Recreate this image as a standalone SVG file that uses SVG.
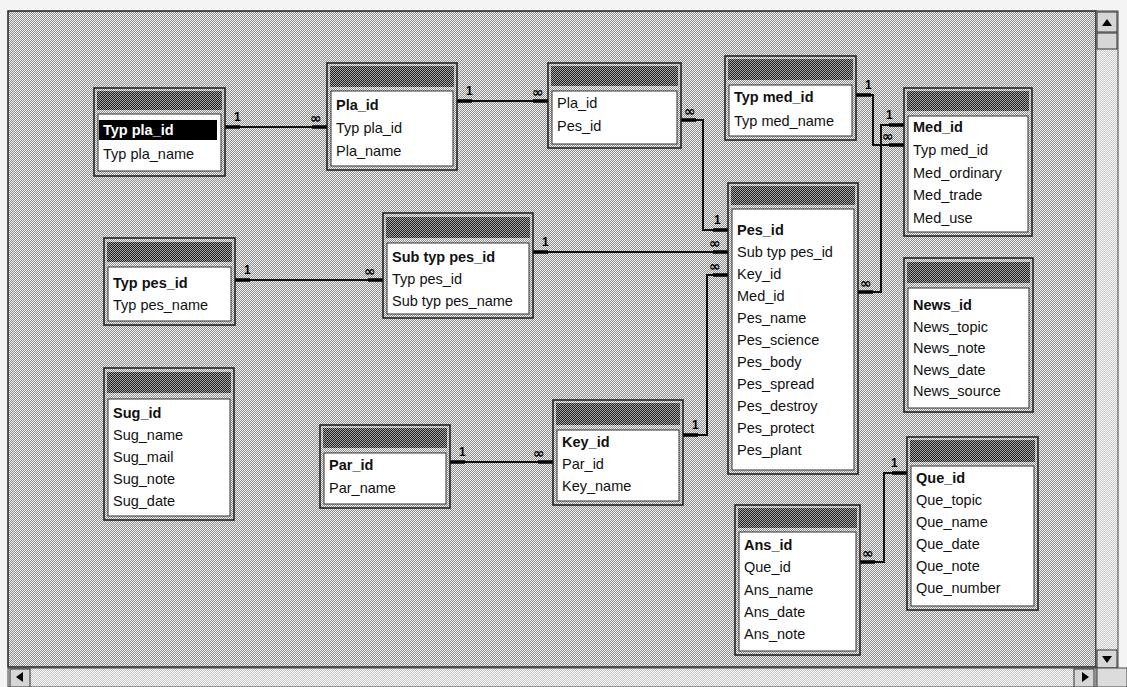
<svg xmlns="http://www.w3.org/2000/svg" width="1127" height="687" viewBox="0 0 1127 687">
<defs>
<pattern id="bg" width="2" height="2" patternUnits="userSpaceOnUse"><rect width="2" height="2" fill="#8e8e8e"/><rect width="1" height="1" fill="#f2f2f2"/><rect x="1" y="1" width="1" height="1" fill="#f2f2f2"/></pattern>
<pattern id="dk" width="2" height="2" patternUnits="userSpaceOnUse"><rect width="2" height="2" fill="#1e1e1e"/><rect width="1" height="1" fill="#a8a8a8"/><rect x="1" y="1" width="1" height="1" fill="#a8a8a8"/></pattern>
<pattern id="sb" width="2" height="2" patternUnits="userSpaceOnUse"><rect width="2" height="2" fill="#c8c8c8"/><rect width="1" height="1" fill="#f8f8f8"/><rect x="1" y="1" width="1" height="1" fill="#f8f8f8"/></pattern>
</defs>
<style>
.frame{fill:url(#bg);stroke:#1a1a1a;stroke-width:1.5}
.title{fill:url(#dk)}
.list{fill:#ffffff;stroke:#333;stroke-width:1}
.f{font-family:"Liberation Sans",Arial,sans-serif;font-size:14.5px;fill:#111}
.k{font-weight:bold}
.sel{fill:#000}
.w{fill:#fff}
.ln{fill:none;stroke:#111;stroke-width:2}
.stub{fill:none;stroke:#000;stroke-width:3.5}
.lbl{font-family:"Liberation Sans",Arial,sans-serif;font-size:12px;font-weight:bold;fill:#000}
.inf{font-family:"DejaVu Sans",sans-serif;font-size:14px;font-weight:bold;fill:#000}
.btn{fill:#d6d6d6;stroke:#333;stroke-width:1}
</style>
<rect x="0" y="0" width="1127" height="687" fill="#f4f4f4"/>
<rect x="8" y="11" width="1088" height="656" fill="url(#bg)" stroke="#222" stroke-width="1.5"/>

<!-- scrollbars -->
<g id="scrollbars">
<rect x="1096" y="11" width="22" height="656" fill="url(#sb)" stroke="#444"/>
<rect class="btn" x="1097" y="12" width="20" height="20"/>
<polygon points="1102,26 1107,19 1112,26" fill="#000"/>
<rect class="btn" x="1097" y="33" width="20" height="16"/>
<rect class="btn" x="1097" y="650" width="20" height="18"/>
<polygon points="1102,656 1112,656 1107,663" fill="#000"/>
<rect x="8" y="668" width="1088" height="19" fill="url(#sb)" stroke="#444"/>
<rect class="btn" x="10" y="669" width="20" height="18"/>
<polygon points="23,672 23,682 16,677" fill="#000"/>
<rect class="btn" x="1074" y="669" width="20" height="18"/>
<polygon points="1082,672 1082,682 1089,677" fill="#000"/>
<rect x="1097" y="668" width="30" height="19" fill="#dcdcdc" stroke="#444"/>
</g>

<!-- connectors -->
<g id="connectors">
<path class="ln" d="M225,127 H327"/>
<path class="stub" d="M225,127 H240 M312,127 H327"/>
<text class="lbl" x="234" y="121">1</text><text class="inf" x="310" y="123">∞</text>

<path class="ln" d="M457,101 H548"/>
<path class="stub" d="M457,101 H472 M533,101 H548"/>
<text class="lbl" x="466" y="95">1</text><text class="inf" x="532" y="97">∞</text>

<path class="ln" d="M681,120 H703 V230 H728"/>
<path class="stub" d="M681,120 H696 M713,230 H728"/>
<text class="inf" x="684" y="116">∞</text><text class="lbl" x="714" y="224">1</text>

<path class="ln" d="M533,252 H728"/>
<path class="stub" d="M533,252 H548 M713,252 H728"/>
<text class="lbl" x="542" y="246">1</text><text class="inf" x="709" y="248">∞</text>

<path class="ln" d="M235,280 H383"/>
<path class="stub" d="M235,280 H250 M368,280 H383"/>
<text class="lbl" x="244" y="274">1</text><text class="inf" x="364" y="276">∞</text>

<path class="ln" d="M683,435 H707 V275 H728"/>
<path class="stub" d="M683,435 H698 M713,275 H728"/>
<text class="lbl" x="692" y="429">1</text><text class="inf" x="709" y="271">∞</text>

<path class="ln" d="M856,95 H873 V145 H904"/>
<path class="stub" d="M856,95 H871 M889,145 H904"/>
<text class="lbl" x="865" y="89">1</text><text class="inf" x="882" y="141">∞</text>

<path class="ln" d="M904,125 H881 V292 H858"/>
<path class="stub" d="M904,125 H889 M858,292 H873"/>
<text class="lbl" x="886" y="119">1</text><text class="inf" x="860" y="288">∞</text>

<path class="ln" d="M450,462 H553"/>
<path class="stub" d="M450,462 H465 M538,462 H553"/>
<text class="lbl" x="459" y="456">1</text><text class="inf" x="533" y="458">∞</text>

<path class="ln" d="M907,473 H884 V562 H860"/>
<path class="stub" d="M907,473 H892 M860,562 H875"/>
<text class="lbl" x="891" y="467">1</text><text class="inf" x="862" y="558">∞</text>
</g>

<!-- tables -->
<g id="tbl_typeplant">
<rect class="frame" x="94" y="88" width="131" height="88"/>
<rect class="title" x="97" y="91" width="125" height="19"/>
<rect class="list" x="98" y="114" width="123" height="57"/>
<rect class="sel" x="99" y="120" width="118" height="20"/>
<text class="f k w" x="103" y="135">Typ pla_id</text>
<text class="f" x="103" y="159">Typ pla_name</text>
</g>

<g id="tbl_plant">
<rect class="frame" x="327" y="63" width="130" height="107"/>
<rect class="title" x="330" y="66" width="124" height="21"/>
<rect class="list" x="331" y="91" width="122" height="75"/>
<text class="f k" x="336" y="110">Pla_id</text>
<text class="f" x="336" y="133">Typ pla_id</text>
<text class="f" x="336" y="156">Pla_name</text>
</g>

<g id="tbl_pla_pes">
<rect class="frame" x="548" y="63" width="133" height="85"/>
<rect class="title" x="551" y="66" width="127" height="20"/>
<rect class="list" x="552" y="91" width="125" height="53"/>
<text class="f" x="557" y="108">Pla_id</text>
<text class="f" x="557" y="131">Pes_id</text>
</g>

<g id="tbl_typemed">
<rect class="frame" x="725" y="56" width="131" height="84"/>
<rect class="title" x="728" y="59" width="125" height="21"/>
<rect class="list" x="729" y="85" width="123" height="51"/>
<text class="f k" x="734" y="102">Typ med_id</text>
<text class="f" x="734" y="126">Typ med_name</text>
</g>

<g id="tbl_med">
<rect class="frame" x="904" y="88" width="128" height="148"/>
<rect class="title" x="907" y="91" width="122" height="20"/>
<rect class="list" x="908" y="116" width="120" height="116"/>
<text class="f k" x="913" y="132">Med_id</text>
<text class="f" x="913" y="155">Typ med_id</text>
<text class="f" x="913" y="178">Med_ordinary</text>
<text class="f" x="913" y="200">Med_trade</text>
<text class="f" x="913" y="223">Med_use</text>
</g>

<g id="tbl_typepest">
<rect class="frame" x="104" y="238" width="131" height="87"/>
<rect class="title" x="107" y="242" width="125" height="20"/>
<rect class="list" x="108" y="267" width="123" height="54"/>
<text class="f k" x="113" y="288">Typ pes_id</text>
<text class="f" x="113" y="310">Typ pes_name</text>
</g>

<g id="tbl_subtypepest">
<rect class="frame" x="383" y="213" width="150" height="105"/>
<rect class="title" x="386" y="217" width="144" height="21"/>
<rect class="list" x="387" y="243" width="142" height="71"/>
<text class="f k" x="392" y="262">Sub typ pes_id</text>
<text class="f" x="392" y="284">Typ pes_id</text>
<text class="f" x="392" y="306">Sub typ pes_name</text>
</g>

<g id="tbl_pest">
<rect class="frame" x="728" y="183" width="130" height="291"/>
<rect class="title" x="731" y="186" width="124" height="19"/>
<rect class="list" x="732" y="209" width="122" height="261"/>
<text class="f k" x="737" y="235">Pes_id</text>
<text class="f" x="737" y="257">Sub typ pes_id</text>
<text class="f" x="737" y="279">Key_id</text>
<text class="f" x="737" y="301">Med_id</text>
<text class="f" x="737" y="323">Pes_name</text>
<text class="f" x="737" y="345">Pes_science</text>
<text class="f" x="737" y="367">Pes_body</text>
<text class="f" x="737" y="389">Pes_spread</text>
<text class="f" x="737" y="411">Pes_destroy</text>
<text class="f" x="737" y="433">Pes_protect</text>
<text class="f" x="737" y="455">Pes_plant</text>
</g>

<g id="tbl_news">
<rect class="frame" x="904" y="258" width="129" height="154"/>
<rect class="title" x="907" y="262" width="123" height="21"/>
<rect class="list" x="908" y="288" width="121" height="120"/>
<text class="f k" x="913" y="310">News_id</text>
<text class="f" x="913" y="332">News_topic</text>
<text class="f" x="913" y="353">News_note</text>
<text class="f" x="913" y="375">News_date</text>
<text class="f" x="913" y="396">News_source</text>
</g>

<g id="tbl_suggest">
<rect class="frame" x="104" y="368" width="130" height="152"/>
<rect class="title" x="107" y="372" width="124" height="21"/>
<rect class="list" x="108" y="399" width="122" height="117"/>
<text class="f k" x="113" y="418">Sug_id</text>
<text class="f" x="113" y="440">Sug_name</text>
<text class="f" x="113" y="462">Sug_mail</text>
<text class="f" x="113" y="484">Sug_note</text>
<text class="f" x="113" y="506">Sug_date</text>
</g>

<g id="tbl_parasite">
<rect class="frame" x="320" y="425" width="130" height="83"/>
<rect class="title" x="323" y="428" width="124" height="20"/>
<rect class="list" x="324" y="453" width="122" height="51"/>
<text class="f k" x="329" y="470">Par_id</text>
<text class="f" x="329" y="493">Par_name</text>
</g>

<g id="tbl_key">
<rect class="frame" x="553" y="400" width="130" height="105"/>
<rect class="title" x="556" y="403" width="124" height="22"/>
<rect class="list" x="557" y="430" width="122" height="71"/>
<text class="f k" x="562" y="447">Key_id</text>
<text class="f" x="562" y="469">Par_id</text>
<text class="f" x="562" y="491">Key_name</text>
</g>

<g id="tbl_question">
<rect class="frame" x="907" y="437" width="131" height="173"/>
<rect class="title" x="910" y="440" width="125" height="22"/>
<rect class="list" x="911" y="466" width="123" height="140"/>
<text class="f k" x="916" y="483">Que_id</text>
<text class="f" x="916" y="505">Que_topic</text>
<text class="f" x="916" y="527">Que_name</text>
<text class="f" x="916" y="549">Que_date</text>
<text class="f" x="916" y="571">Que_note</text>
<text class="f" x="916" y="593">Que_number</text>
</g>

<g id="tbl_answer">
<rect class="frame" x="735" y="505" width="125" height="150"/>
<rect class="title" x="738" y="508" width="119" height="20"/>
<rect class="list" x="739" y="532" width="117" height="119"/>
<text class="f k" x="744" y="550">Ans_id</text>
<text class="f" x="744" y="572">Que_id</text>
<text class="f" x="744" y="595">Ans_name</text>
<text class="f" x="744" y="617">Ans_date</text>
<text class="f" x="744" y="639">Ans_note</text>
</g>
</svg>
